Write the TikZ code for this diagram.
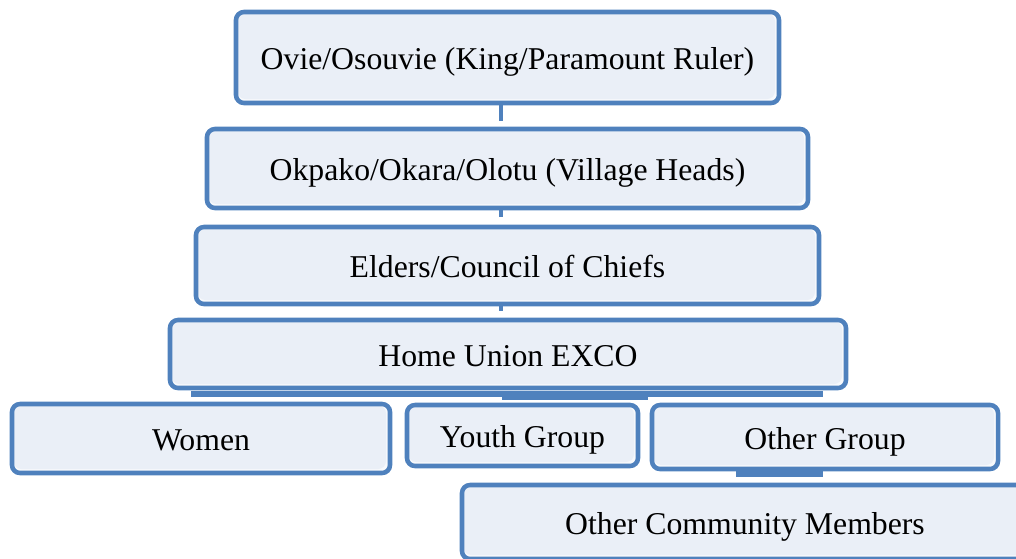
\documentclass[tikz,border=0pt]{standalone}
\usepackage{fontspec}
\setmainfont{Liberation Serif}
\definecolor{bordblue}{HTML}{4F81BD}
\definecolor{boxfill}{HTML}{EAEFF7}
\definecolor{boxlight}{HTML}{F7F9FC}
\begin{document}
\begin{tikzpicture}[x=0.75pt,y=-0.75pt,
  box/.style={draw=bordblue, line width=3.4pt, rounded corners=6pt,
    fill=boxlight, inner sep=0pt, text height=18.5pt, text depth=0pt,
    font=\fontsize{23.8}{28}\selectfont,
    path picture={\fill[boxfill] ([xshift=1pt,yshift=-1pt]path picture bounding box.north west) rectangle ([xshift=-3pt,yshift=3pt]path picture bounding box.south east);}},
  conn/.style={draw=bordblue, line width=3.2pt},
  bar/.style={draw=bordblue, line width=4pt}]
\clip (0,0) rectangle (1016,558);
\useasboundingbox (0,0) rectangle (1016,558);
\node[box, minimum width=407.25pt, minimum height=68.25pt] (b1) at (507.5,57.5) {Ovie/Osouvie (King/Paramount Ruler)};
\node[box, minimum width=450.75pt, minimum height=59.25pt] (b2) at (507.5,168.5) {Okpako/Okara/Olotu (Village Heads)};
\node[box, minimum width=467.25pt, minimum height=57.75pt] (b3) at (507.5,265.5) {Elders/Council of Chiefs};
\node[box, minimum width=507pt, minimum height=51pt] (b4) at (508,354) {Home Union EXCO};
\node[box, minimum width=283.5pt, minimum height=51.75pt] (w) at (201,438.5) {Women};
\node[box, minimum width=173.25pt, minimum height=45.75pt] (y) at (522.5,435.5) {Youth Group};
\node[box, minimum width=259.5pt, minimum height=48pt] (o) at (825,437) {Other Group};
\node[box, minimum width=424.5pt, minimum height=55.5pt] (m) at (745,522) {Other Community Members};
\coordinate (s) at (501,0);
\draw[conn] (b1.south -| s) -- ([yshift=4pt]b2.north -| s);
\draw[conn] (b2.south -| s) -- ([yshift=6pt]b3.north -| s);
\draw[conn] (b3.south -| s) -- ([yshift=5pt]b4.north -| s);
\coordinate (busL) at (191,394);
\coordinate (busR) at (823,394);
\coordinate (busM1) at (502,397);
\coordinate (busM2) at (648,397);
\coordinate (ocL) at (736,474);
\coordinate (ocR) at (823,474);
\draw[bar] (busL) -- (busR);
\draw[bar] (busM1) -- (busM2);
\draw[bar] (ocL) -- (ocR);
\end{tikzpicture}
\end{document}
